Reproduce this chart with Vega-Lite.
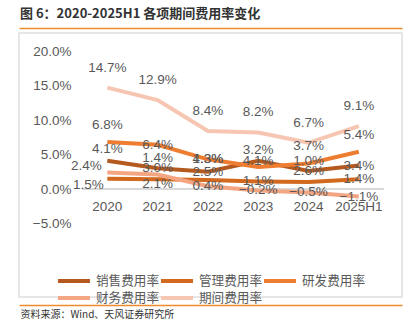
{
  "$schema": "https://vega.github.io/schema/vega-lite/v6.json",
  "width": 383,
  "height": 264,
  "autosize": {"type": "none"},
  "padding": {"left": 19, "top": 33, "right": 18, "bottom": 30},
  "background": "white",
  "title": {
    "text": "图 6：2020-2025H1 各项期间费用率变化",
    "anchor": "start",
    "frame": "group",
    "font": "Noto Sans CJK SC",
    "fontSize": 13,
    "fontWeight": "bold",
    "color": "#333333",
    "offset": 7,
    "dx": 1
  },
  "data": {
    "values": [
      {"year": "2020", "series": "销售费用率", "value": 0.041},
      {"year": "2021", "series": "销售费用率", "value": 0.030},
      {"year": "2022", "series": "销售费用率", "value": 0.025},
      {"year": "2023", "series": "销售费用率", "value": 0.041},
      {"year": "2024", "series": "销售费用率", "value": 0.026},
      {"year": "2025H1", "series": "销售费用率", "value": 0.034},
      {"year": "2020", "series": "管理费用率", "value": 0.015},
      {"year": "2021", "series": "管理费用率", "value": 0.014},
      {"year": "2022", "series": "管理费用率", "value": 0.013},
      {"year": "2023", "series": "管理费用率", "value": 0.011},
      {"year": "2024", "series": "管理费用率", "value": 0.010},
      {"year": "2025H1", "series": "管理费用率", "value": 0.014},
      {"year": "2020", "series": "研发费用率", "value": 0.068},
      {"year": "2021", "series": "研发费用率", "value": 0.064},
      {"year": "2022", "series": "研发费用率", "value": 0.043},
      {"year": "2023", "series": "研发费用率", "value": 0.032},
      {"year": "2024", "series": "研发费用率", "value": 0.037},
      {"year": "2025H1", "series": "研发费用率", "value": 0.054},
      {"year": "2020", "series": "财务费用率", "value": 0.024},
      {"year": "2021", "series": "财务费用率", "value": 0.021},
      {"year": "2022", "series": "财务费用率", "value": 0.004},
      {"year": "2023", "series": "财务费用率", "value": -0.002},
      {"year": "2024", "series": "财务费用率", "value": -0.005},
      {"year": "2025H1", "series": "财务费用率", "value": -0.011},
      {"year": "2020", "series": "期间费用率", "value": 0.147},
      {"year": "2021", "series": "期间费用率", "value": 0.129},
      {"year": "2022", "series": "期间费用率", "value": 0.084},
      {"year": "2023", "series": "期间费用率", "value": 0.082},
      {"year": "2024", "series": "期间费用率", "value": 0.067},
      {"year": "2025H1", "series": "期间费用率", "value": 0.091}
    ]
  },
  "layer": [
    {
      "mark": {"type": "point", "opacity": 0},
      "encoding": {
        "x": {"field": "year", "type": "ordinal", "sort": null,
          "axis": {"orient": "top", "offset": 5, "domain": true, "domainColor": "#F08A2C", "domainWidth": 1.5, "labels": false, "ticks": false, "grid": false, "title": null}},
        "y": {"field": "value", "type": "quantitative", "axis": null}
      }
    },
    {
      "mark": {"type": "point", "opacity": 0},
      "encoding": {
        "x": {"field": "year", "type": "ordinal", "sort": null,
          "axis": {"orient": "bottom", "offset": 8, "domain": true, "domainColor": "#F08A2C", "domainWidth": 1.5, "labels": false, "ticks": false, "grid": false,
            "title": "资料来源：Wind、天风证券研究所", "titleFont": "Noto Sans CJK SC", "titleFontSize": 10, "titleFontWeight": "normal", "titleColor": "#333333",
            "titleAnchor": "start", "titleAlign": "left", "titleBaseline": "middle", "titleX": 1, "titleY": 9}},
        "y": {"field": "value", "type": "quantitative", "axis": null}
      }
    },
    {
      "mark": {"type": "rule", "color": "#D9D9D9", "strokeWidth": 1.5},
      "encoding": {
        "x": {"datum": "2020", "bandPosition": 0, "axis": null},
        "x2": {"datum": "2025H1", "bandPosition": 1},
        "y": {"datum": 0, "axis": null}
      }
    },
    {
      "transform": [{"filter": "datum.series === '销售费用率' || datum.series === '管理费用率' || datum.series === '研发费用率'"}],
      "mark": {"type": "line", "strokeWidth": 4},
      "encoding": {
        "x": {"field": "year", "type": "ordinal", "sort": null,
          "scale": {"type": "band", "paddingInner": 0, "paddingOuter": 0.807, "align": 0.778},
          "axis": {"orient": "bottom", "offset": -108, "domain": false, "ticks": false, "tickSize": 0, "grid": false, "title": null,
            "labelAngle": 0, "labelPadding": 17, "labelBaseline": "middle", "labelFont": "Liberation Sans", "labelFontSize": 13.5, "labelColor": "#595959"}},
        "y": {"field": "value", "type": "quantitative",
          "scale": {"domain": [-0.1565, 0.2261], "nice": false, "zero": false},
          "axis": {"orient": "left", "offset": -54, "values": [-0.05, 0, 0.05, 0.1, 0.15, 0.2], "format": ".1%", "domain": false, "ticks": false, "tickSize": 0, "grid": false, "title": null,
            "labelPadding": 2, "labelFont": "Liberation Sans", "labelFontSize": 13.5, "labelColor": "#595959"}},
        "color": {"field": "series", "type": "nominal",
          "scale": {"domain": ["销售费用率", "管理费用率", "研发费用率"], "range": ["#B55A1F", "#D2691E", "#EE7D31"]},
          "legend": {"orient": "none", "legendX": 37, "legendY": 241, "direction": "horizontal", "columnPadding": 0, "clipHeight": 13,
            "symbolType": "stroke", "symbolSize": 1024, "symbolStrokeWidth": 4, "labelFont": "Noto Sans CJK SC", "labelFontSize": 12.6, "labelColor": "#595959", "labelOffset": 4, "title": null}}
      }
    },
    {
      "transform": [{"filter": "datum.series === '财务费用率' || datum.series === '期间费用率'"}],
      "mark": {"type": "line", "strokeWidth": 4},
      "encoding": {
        "x": {"field": "year", "type": "ordinal", "sort": null, "axis": null},
        "y": {"field": "value", "type": "quantitative", "axis": null},
        "stroke": {"field": "series", "type": "nominal",
          "scale": {"domain": ["财务费用率", "期间费用率"], "range": ["#F4A582", "#F7C6B2"]},
          "legend": {"orient": "none", "legendX": 37, "legendY": 258, "direction": "horizontal", "columnPadding": 0, "clipHeight": 13,
            "symbolType": "stroke", "symbolSize": 1024, "symbolStrokeWidth": 4, "labelFont": "Noto Sans CJK SC", "labelFontSize": 12.6, "labelColor": "#595959", "labelOffset": 4, "title": null}}
      }
    },
    {
      "mark": {"type": "text", "font": "Liberation Sans", "fontSize": 13.5, "color": "#595959",
        "dy": {"expr": "datum.series === '期间费用率' ? -20 : datum.series === '研发费用率' ? ((datum.year === '2021' || datum.year === '2022') ? 0 : -17) : datum.series === '销售费用率' ? (datum.year === '2020' ? -12 : 0) : datum.series === '管理费用率' ? ((datum.year === '2021' || datum.year === '2022' || datum.year === '2024') ? -21 : datum.year === '2020' ? 6 : 0) : (datum.year === '2020' ? -6 : datum.year === '2021' ? 9 : 0)"},
        "dx": {"expr": "datum.year === '2020' && datum.series === '管理费用率' ? -19 : datum.year === '2020' && datum.series === '财务费用率' ? -21 : 0"}},
      "encoding": {
        "x": {"field": "year", "type": "ordinal", "sort": null, "axis": null},
        "y": {"field": "value", "type": "quantitative", "axis": null},
        "text": {"field": "value", "type": "quantitative", "format": ".1%"}
      }
    }
  ],
  "resolve": {"axis": {"x": "independent", "y": "independent"}},
  "config": {
    "view": {"stroke": "#DEDEDE", "strokeWidth": 1.5},
    "axis": {"grid": false}
  }
}
